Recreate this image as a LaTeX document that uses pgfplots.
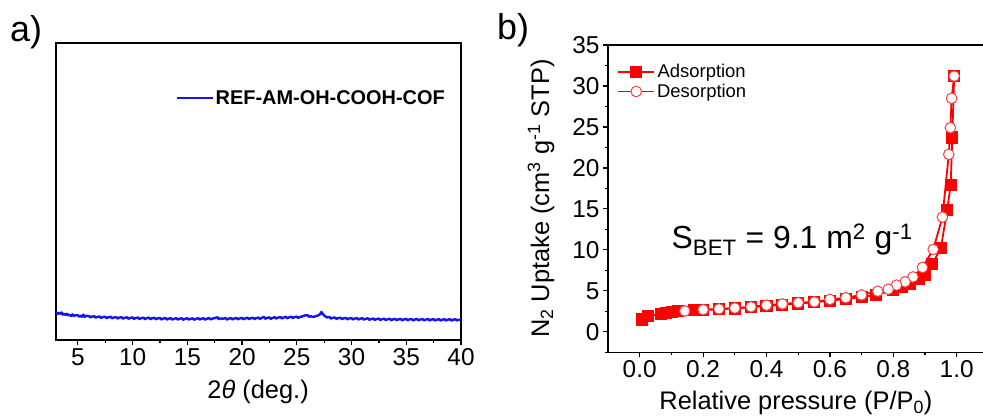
\documentclass[border=0pt]{standalone}
\usepackage{fontspec}
\setmainfont{Liberation Sans}
\usepackage{pgfplots}
\pgfplotsset{compat=1.18}
\definecolor{xrdblue}{RGB}{20,20,235}
\begin{document}
\begin{tikzpicture}
\path[use as bounding box] (0bp,0bp) rectangle (983bp,417bp);
\node[anchor=base west, inner sep=0pt, font=\fontsize{36}{40}\selectfont] at (10bp,375bp) {a)};
\node[anchor=base west, inner sep=0pt, font=\fontsize{36}{40}\selectfont] at (497bp,377bp) {b)};
\begin{axis}[
  at={(56bp,77bp)}, anchor=south west, scale only axis,
  width=405bp, height=297bp,
  xmin=3, xmax=40, ymin=0, ymax=297,
  xtick={5,10,...,40}, minor xtick={7.5,12.5,...,37.5},
  ytick=\empty,
  tick align=outside, xtick pos=left,
  major tick length=5bp, minor tick length=3bp,
  axis line style={line width=1.5bp},
  every tick/.style={line width=1.2bp, black},
  tick label style={font=\fontsize{24.5}{28}\selectfont},
  /pgf/number format/assume math mode=true,
  xlabel={2\textit{θ} (deg.)},
  xlabel style={at={(axis description cs:0.499,-0.175)}, anchor=center, font=\fontsize{25.5}{29}\selectfont},
  legend style={at={(axis description cs:0.296,0.815)}, anchor=west, draw=none, fill=none, inner sep=0pt,
    font=\bfseries\fontsize{20}{24}\selectfont},
  legend image code/.code={\draw[#1, line width=1.6bp] (0bp,0bp) -- (36bp,0bp);},
]
\addplot[color=xrdblue, line width=2.4bp, line join=round] coordinates {
(3.00,28.5) (3.12,26.0) (3.25,27.0) (3.37,26.2) (3.50,27.6) (3.62,25.4) (3.75,26.3) (3.87,25.0) (4.00,26.2) (4.12,24.6) (4.25,25.2) (4.37,24.0) (4.50,25.6) (4.62,23.9) (4.75,24.7)
(5.00,24.8) (5.12,23.3) (5.25,24.3) (5.37,23.2) (5.50,25.4) (5.62,23.0) (5.75,24.1) (6.00,24.0) (6.12,22.6) (6.25,23.3) (6.50,23.8) (6.62,22.3) (6.75,23.1)
(7.00,23.5) (7.12,22.0) (7.25,22.8) (7.50,23.3) (7.62,21.8) (7.75,22.6) (8.00,23.2) (8.12,21.7) (8.25,22.4) (8.50,22.9) (8.62,21.4) (8.75,22.3)
(9.00,22.8) (9.12,21.3) (9.25,22.1) (9.50,22.7) (9.62,21.2) (9.75,22.0) (10.00,22.6) (10.12,21.0) (10.25,21.9) (10.50,22.5) (10.62,20.9) (10.75,21.8)
(11.00,22.3) (11.12,20.8) (11.25,21.7) (11.50,22.4) (11.62,20.7) (11.75,21.6) (12.00,22.2) (12.12,20.6) (12.25,21.5) (12.50,22.1) (12.62,20.5) (12.75,21.3)
(13.00,22.0) (13.12,20.4) (13.25,21.2) (13.50,21.9) (13.62,20.3) (13.75,21.1) (14.00,21.8) (14.12,20.4) (14.25,21.2) (14.50,21.7) (14.62,20.2) (14.75,21.0)
(15.00,21.8) (15.12,20.3) (15.25,21.1) (15.50,21.6) (15.62,20.2) (15.75,21.0) (16.00,21.9) (16.12,20.4) (16.25,21.2) (16.50,21.7) (16.62,20.3) (16.75,21.1)
(17.00,22.0) (17.12,20.5) (17.25,21.3) (17.50,21.9) (17.75,22.8) (17.87,20.8) (18.00,21.6) (18.25,21.3) (18.50,21.9) (18.62,20.4) (18.75,21.2)
(19.00,22.0) (19.12,20.5) (19.25,21.3) (19.50,22.1) (19.62,20.6) (19.75,21.4) (20.00,22.2) (20.12,20.7) (20.25,21.5) (20.50,22.3) (20.62,20.8) (20.75,21.6)
(21.00,22.3) (21.12,20.9) (21.25,21.7) (21.50,22.4) (21.62,21.0) (21.75,21.9) (22.00,23.2) (22.12,21.2) (22.25,22.0) (22.50,22.6) (22.62,21.1) (22.75,21.9)
(23.00,22.8) (23.12,21.4) (23.25,22.2) (23.50,23.0) (23.62,21.5) (23.75,22.3) (24.00,23.2) (24.12,21.7) (24.25,22.5) (24.50,23.3) (24.62,21.9) (24.75,22.7)
(25.00,23.4) (25.12,22.0) (25.25,22.9) (25.50,23.6) (25.75,24.6) (26.00,24.8) (26.12,23.2) (26.25,23.8) (26.50,23.0) (26.75,23.9)
(27.00,24.8) (27.12,25.8) (27.25,28.0) (27.37,26.2) (27.50,24.5) (27.75,22.6) (28.00,22.9) (28.12,21.3) (28.25,22.1) (28.50,22.5) (28.62,21.0) (28.75,21.8)
(29.00,22.3) (29.12,20.8) (29.25,21.6) (29.50,22.1) (29.62,20.6) (29.75,21.4) (30.00,22.0) (30.12,20.5) (30.25,21.3) (30.50,21.9) (30.62,20.4) (30.75,21.2)
(31.00,21.8) (31.12,20.3) (31.25,21.1) (31.50,21.7) (31.62,20.1) (31.75,20.9) (32.00,21.5) (32.12,20.0) (32.25,20.8) (32.50,21.4) (32.62,19.9) (32.75,20.7)
(33.00,21.3) (33.12,19.8) (33.25,20.6) (33.50,21.3) (33.62,19.7) (33.75,20.5) (34.00,21.2) (34.12,19.7) (34.25,20.5) (34.50,21.1) (34.62,19.6) (34.75,20.4)
(35.00,21.2) (35.12,19.7) (35.25,20.5) (35.50,21.0) (35.62,19.5) (35.75,20.3) (36.00,21.1) (36.12,19.6) (36.25,20.4) (36.50,20.9) (36.62,19.5) (36.75,20.3)
(37.00,21.0) (37.12,19.5) (37.25,20.3) (37.50,20.9) (37.62,19.4) (37.75,20.2) (38.00,20.9) (38.12,19.4) (38.25,20.2) (38.50,20.8) (38.62,19.4) (38.75,20.2)
(39.00,20.9) (39.12,19.3) (39.25,20.1) (39.50,20.8) (39.62,19.4) (39.75,20.2) (40.00,20.3)
};
\addlegendentry{REF-AM-OH-COOH-COF}
\end{axis}
\begin{axis}[
  at={(608bp,64.7bp)}, anchor=south west, scale only axis,
  width=380.4bp, height=307.3bp,
  xmin=-0.1, xmax=1.1, ymin=-2.5, ymax=35,
  xtick={0,0.2,0.4,0.6,0.8,1.0}, minor xtick={0.1,0.3,0.5,0.7,0.9},
  ytick={0,5,...,35}, minor ytick={-2.5,2.5,7.5,12.5,17.5,22.5,27.5,32.5},
  tick align=outside, xtick pos=left, ytick pos=left,
  major tick length=5bp, minor tick length=3bp,
  axis line style={line width=1.5bp},
  every tick/.style={line width=1.2bp, black},
  tick label style={font=\fontsize{24.5}{28}\selectfont},
  /pgf/number format/assume math mode=true,
  xticklabel style={/pgf/number format/.cd, fixed, fixed zerofill, precision=1},
  xlabel={Relative pressure (P/P\textsubscript{0})},
  xlabel style={at={(axis description cs:0.494,-0.165)}, anchor=center, font=\fontsize{25.5}{29}\selectfont},
  ylabel={N\textsubscript{2} Uptake (cm\textsuperscript{3} g\textsuperscript{-1} STP)},
  ylabel style={at={(axis description cs:-0.176,0.5)}, anchor=center, font=\fontsize{25.5}{29}\selectfont},
  legend style={at={(axis description cs:0.024,0.881)}, anchor=west, draw=none, fill=none, inner sep=0pt,
    font=\fontsize{18.5}{22}\selectfont, row sep=1bp},
  legend image code/.code={\draw[mark repeat=2,mark phase=2,#1] plot coordinates {(0bp,0bp) (18bp,0bp) (36bp,0bp)};},
]
\addplot[color=red, line width=1.8bp, mark=square*, mark size=5.2bp, mark options={solid, fill=red}] coordinates {
(0.006,1.5) (0.027,1.9) (0.066,2.2) (0.082,2.3) (0.103,2.45) (0.12,2.5) (0.171,2.65) (0.20,2.65)
(0.25,2.75) (0.30,2.85) (0.35,3.0) (0.40,3.15) (0.45,3.3) (0.50,3.45) (0.55,3.6) (0.60,3.8)
(0.65,4.0) (0.70,4.25) (0.745,4.5) (0.80,5.1) (0.827,5.5) (0.853,5.9) (0.88,6.5) (0.90,7.0)
(0.923,8.3) (0.95,10.2) (0.97,14.9) (0.981,17.9) (0.986,23.7) (0.992,31.2)
};
\addlegendentry{Adsorption}
\addplot[color=red, line width=1.8bp, mark=*, mark size=5.3bp, mark options={solid, fill=white, draw=red!75!white, line width=1bp}] coordinates {
(0.992,31.2) (0.984,28.5) (0.980,24.9) (0.975,21.65) (0.955,14.0) (0.926,10.05) (0.892,7.85) (0.862,6.7)
(0.837,6.1) (0.81,5.7) (0.784,5.2) (0.751,4.95) (0.70,4.5) (0.65,4.15) (0.60,3.95) (0.551,3.65)
(0.50,3.55) (0.45,3.4) (0.40,3.25) (0.351,3.05) (0.30,2.9) (0.25,2.8) (0.20,2.7) (0.142,2.55)
};
\addlegendentry{Desorption}
\node[anchor=base west, inner sep=0pt, font=\fontsize{32}{36}\selectfont] at (axis cs:0.10,10.2) {S\textsubscript{BET} = 9.1 m\textsuperscript{2} g\textsuperscript{-1}};
\end{axis}
\end{tikzpicture}
\end{document}
